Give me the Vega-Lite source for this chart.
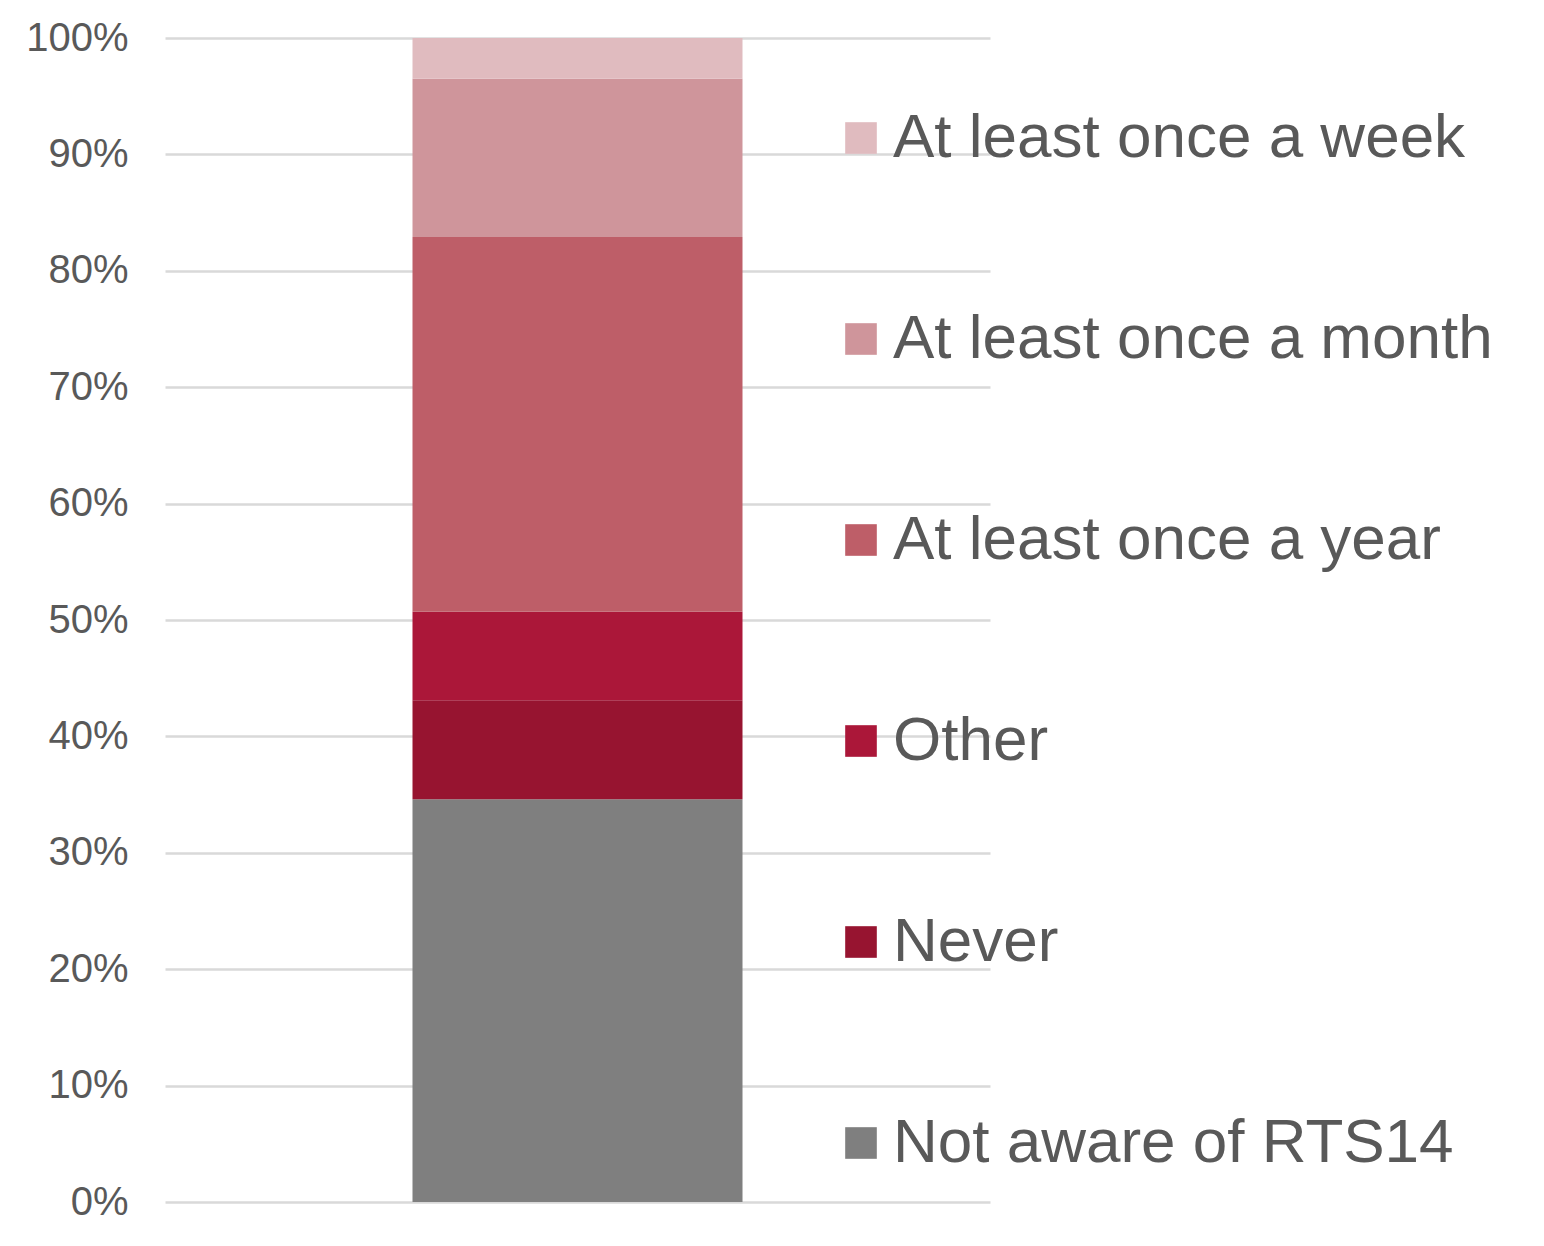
{
  "$schema": "https://vega.github.io/schema/vega-lite/v6.json",
  "autosize": {"type": "none"},
  "width": 825,
  "height": 1164,
  "padding": {"left": 165, "top": 38, "right": 554, "bottom": 44},
  "background": "white",
  "data": {
    "values": [
      {"cat": "", "response": "Not aware of RTS14", "share": 0.346, "rank": 1},
      {"cat": "", "response": "Never", "share": 0.085, "rank": 2},
      {"cat": "", "response": "Other", "share": 0.076, "rank": 3},
      {"cat": "", "response": "At least once a year", "share": 0.322, "rank": 4},
      {"cat": "", "response": "At least once a month", "share": 0.136, "rank": 5},
      {"cat": "", "response": "At least once a week", "share": 0.035, "rank": 6}
    ]
  },
  "mark": {"type": "bar"},
  "encoding": {
    "x": {
      "field": "cat",
      "type": "nominal",
      "axis": null,
      "scale": {"paddingInner": 0, "paddingOuter": 0.75}
    },
    "y": {
      "field": "share",
      "type": "quantitative",
      "stack": "zero",
      "scale": {"domain": [0, 1], "nice": false},
      "axis": {
        "title": null,
        "format": ".0%",
        "values": [0, 0.1, 0.2, 0.3, 0.4, 0.5, 0.6, 0.7, 0.8, 0.9, 1],
        "domain": false,
        "ticks": false,
        "labelPadding": 37,
        "labelFontSize": 40,
        "labelFont": "Liberation Sans",
        "labelColor": "#595959",
        "grid": true,
        "gridColor": "#d9d9d9",
        "gridWidth": 2.5
      }
    },
    "order": {"field": "rank", "type": "quantitative", "sort": "ascending"},
    "color": {
      "field": "response",
      "type": "nominal",
      "scale": {
        "domain": ["At least once a week", "At least once a month", "At least once a year", "Other", "Never", "Not aware of RTS14"],
        "range": ["#E0BBBF", "#CF959B", "#BE5E68", "#AB1739", "#971430", "#7F7F7F"]
      },
      "legend": {
        "title": null,
        "orient": "none",
        "legendX": 665,
        "legendY": 69,
        "symbolType": "square",
        "symbolSize": 1000,
        "symbolStrokeWidth": 0,
        "labelFontSize": 62,
        "labelFont": "Liberation Sans",
        "labelColor": "#595959",
        "labelLimit": 1000,
        "labelOffset": 1,
        "rowPadding": 139,
        "padding": 0
      }
    }
  },
  "config": {"view": {"stroke": null}}
}
